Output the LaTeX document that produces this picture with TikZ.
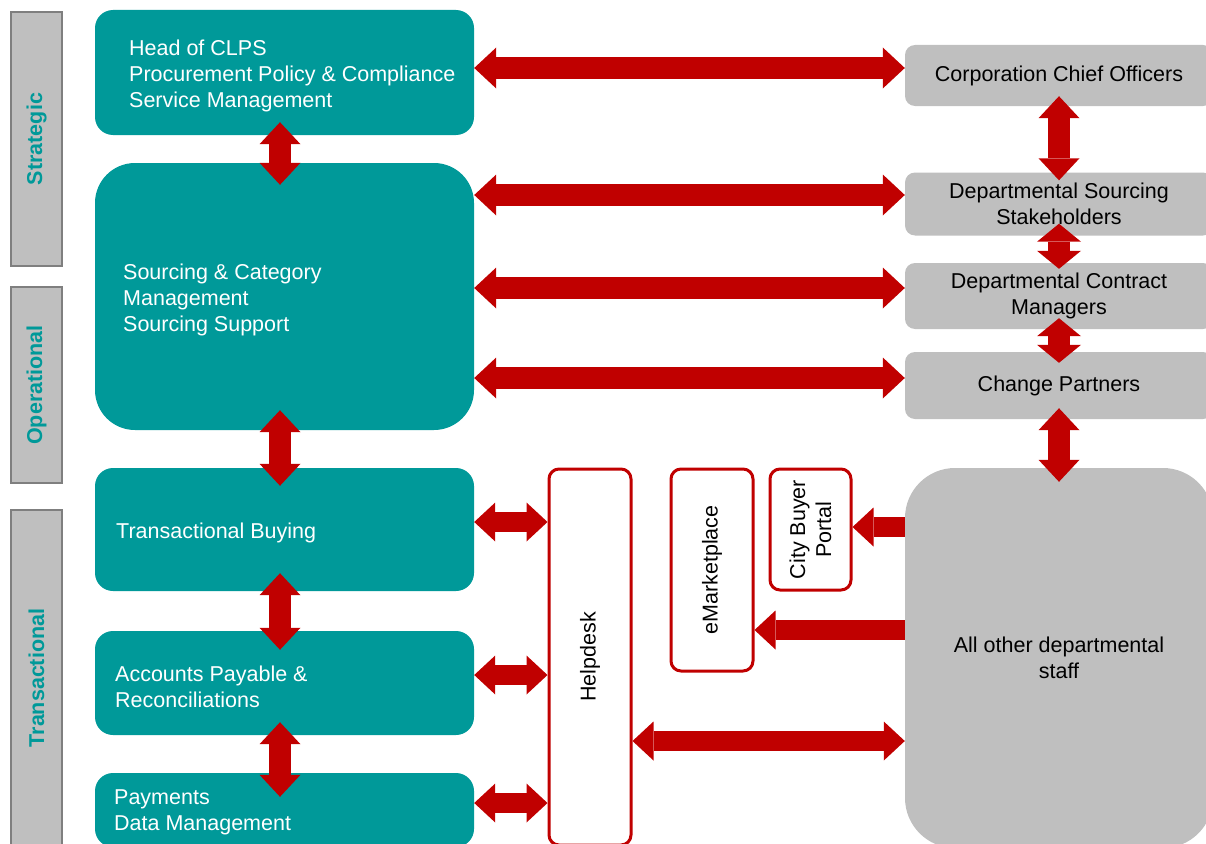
\documentclass[tikz,border=0pt]{standalone}
\usepackage{fontspec}
\setmainfont{Liberation Sans}
\usetikzlibrary{arrows.meta}

\definecolor{clpsteal}{HTML}{009999}
\definecolor{linkred}{HTML}{C00000}
\definecolor{deptgrey}{HTML}{BFBFBF}
\definecolor{tiergrey}{HTML}{7F7F7F}

\tikzset{
  tier/.style={draw=tiergrey, line width=2pt, fill=deptgrey, rotate=90, minimum height=51pt, text=clpsteal, font=\fontsize{21.5}{25}\selectfont\bfseries},
  clps/.style={fill=clpsteal, minimum width=379pt, rounded corners=18pt},
  clpstext/.style={anchor=west, inner sep=0pt, align=left, text=white},
  dept/.style={fill=deptgrey, minimum width=308pt, rounded corners=10pt, align=center},
  tool/.style={draw=linkred, line width=3pt, fill=white, rounded corners=10pt},
  tooltext/.style={rotate=90, align=center, inner sep=0pt},
  bothbig/.style={draw=linkred, line width=22pt, {Triangle[width=41pt,length=22pt,line width=0pt]}-{Triangle[width=41pt,length=22pt,line width=0pt]}},
  bothshort/.style={draw=linkred, line width=22pt, {Triangle[width=44pt,length=18pt,line width=0pt]}-{Triangle[width=44pt,length=18pt,line width=0pt]}},
  bothsmall/.style={draw=linkred, line width=20pt, {Triangle[width=39pt,length=21pt,line width=0pt]}-{Triangle[width=39pt,length=21pt,line width=0pt]}},
  onesmall/.style={draw=linkred, line width=20pt, -{Triangle[width=39pt,length=21pt,line width=0pt]}}
}

\begin{document}
\begin{tikzpicture}[x=1pt, y=-1pt, font=\fontsize{21.5}{26}\selectfont]
  \useasboundingbox (0,0) rectangle (1206,843);
  \clip (0,0) rectangle (1206,843);

  % tiers
  \node[tier, minimum width=254pt] (strategic) at (36.5,139) {Strategic};
  \node[tier, minimum width=196pt] (operational) at (36.5,385) {Operational};
  \node[tier, minimum width=336pt] (transactional) at (36.5,678) {Transactional};

  % CLPS teams
  \node[clps, minimum height=125pt] (head) at (284.5,72.5) {};
  \node[clps, minimum height=267pt, rounded corners=40pt] (sourcing) at (284.5,296.5) {};
  \node[clps, minimum height=123pt] (buying) at (284.5,529.5) {};
  \node[clps, minimum height=104pt] (payable) at (284.5,683) {};
  \node[clps, minimum height=74pt] (payments) at (284.5,810) {};

  \node[clpstext] (headtxt) at (129,76) {Head of CLPS\\Procurement Policy \& Compliance\\Service Management};
  \node[clpstext] (sourcingtxt) at (123,300) {Sourcing \& Category\\Management\\Sourcing Support};
  \node[clpstext] (buyingtxt) at (116,532.5) {Transactional Buying};
  \node[clpstext] (payabletxt) at (115,686.5) {Accounts Payable \&\\Reconciliations};
  \node[clpstext] (paymentstxt) at (114,812.5) {Payments\\Data Management};

  % departments
  \node[dept, minimum height=61pt] (chief) at (1059,75.5) {Corporation Chief Officers};
  \node[dept, minimum height=63pt] (stakeholders) at (1059,204) {Departmental Sourcing\\Stakeholders};
  \node[dept, minimum height=66pt] (contract) at (1059,296) {Departmental Contract\\Managers};
  \node[dept, minimum height=67pt] (partners) at (1059,385.5) {Change Partners};
  \node[dept, minimum height=380pt, rounded corners=50pt] (staff) at (1059,658) {All other departmental\\staff};

  % tools
  \node[tool, minimum width=82pt, minimum height=376pt] (helpdesk) at (590,657) {};
  \node[tool, minimum width=82pt, minimum height=202pt] (market) at (712,570) {};
  \node[tool, minimum width=81pt, minimum height=121pt] (portal) at (810.5,529.5) {};
  \node[tooltext] (helpdesktxt) at (590,657) {Helpdesk};
  \node[tooltext] (markettxt) at (712,570) {eMarketplace};
  \node[tooltext] (portaltxt) at (810.5,529.5) {City Buyer\\Portal};

  % links to departments
  \path (head.east |- 0,68) edge[bothbig] (chief.west |- 0,68);
  \path (sourcing.east |- 0,195) edge[bothbig] (stakeholders.west |- 0,195);
  \path (sourcing.east |- 0,288) edge[bothbig] (contract.west |- 0,288);
  \path (sourcing.east |- 0,378) edge[bothbig] (partners.west |- 0,378);

  % CLPS chain
  \path (head.south -| 280,0) edge[bothbig, shorten <=-13pt, shorten >=-22pt] (sourcing.north -| 280,0);
  \path (sourcing.south -| 280,0) edge[bothbig, shorten <=-20pt, shorten >=-18pt] (buying.north -| 280,0);
  \path (buying.south -| 280,0) edge[bothbig, shorten <=-18pt, shorten >=-19pt] (payable.north -| 280,0);
  \path (payable.south -| 280,0) edge[bothbig, shorten <=-13pt, shorten >=-24pt] (payments.north -| 280,0);

  % department chain
  \path (chief.south) edge[bothbig, shorten <=-10pt, shorten >=-8pt] (stakeholders.north);
  \path (stakeholders.south) edge[bothshort, shorten <=-12pt, shorten >=-6pt] (contract.north);
  \path (contract.south) edge[bothshort, shorten <=-11pt, shorten >=-11pt] (partners.north);
  \path (partners.south) edge[bothbig, shorten <=-11pt, shorten >=-14pt] (staff.north);

  % helpdesk and systems
  \path (buying.east |- 0,522) edge[bothsmall] (helpdesk.west |- 0,522);
  \path (payable.east |- 0,675) edge[bothsmall] (helpdesk.west |- 0,675);
  \path (payments.east |- 0,803) edge[bothsmall] (helpdesk.west |- 0,803);
  \path (helpdesk.east |- 0,741) edge[bothsmall] (staff.west |- 0,741);
  \path (staff.west |- 0,527) edge[onesmall] (portal.east |- 0,527);
  \path (staff.west |- 0,630) edge[onesmall] (market.east |- 0,630);
\end{tikzpicture}
\end{document}
